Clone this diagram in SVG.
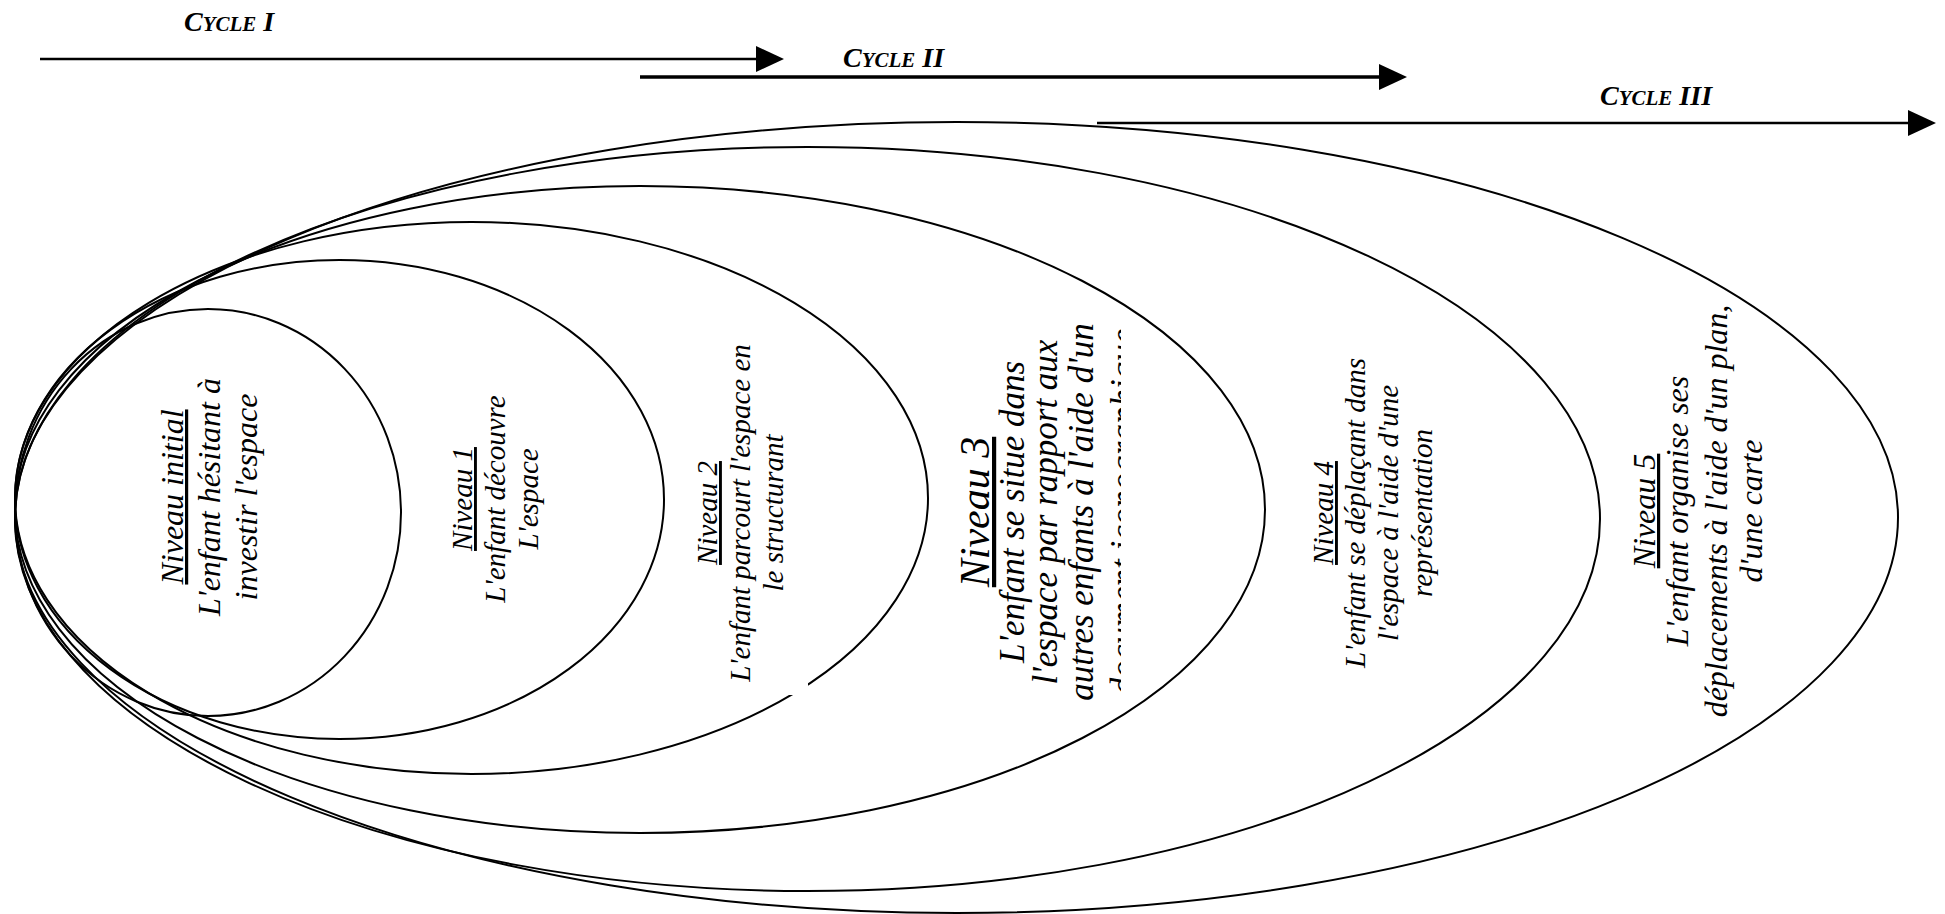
<svg xmlns="http://www.w3.org/2000/svg" width="1945" height="914" viewBox="0 0 1945 914">
<style>
.bg{fill:#ffffff}
.ring{fill:none;stroke:#000;stroke-width:2}
.arrow{stroke:#000;fill:none}
.cyc{font-family:"Liberation Serif","Times New Roman",serif;font-style:italic;font-weight:bold;font-size:28px;fill:#000}
.sc{font-size:21px}
.lbl{font-family:"Liberation Serif","Times New Roman",serif;font-style:italic;fill:#000;text-anchor:middle}
.u{text-decoration:underline}
</style>
<defs>
<marker id="ah" markerUnits="userSpaceOnUse" markerWidth="28" markerHeight="26" viewBox="0 0 28 26" refX="18" refY="13" orient="auto">
<path d="M0,0 L28,13 L0,26 Z" fill="#000"/>
</marker>
<clipPath id="clip3"><rect x="940" y="280" width="181" height="460"/></clipPath>
</defs>
<rect class="bg" x="0" y="0" width="1945" height="914"/>

<g id="connectors">
<line class="arrow" x1="40" y1="59" x2="774" y2="59" stroke-width="2.5" marker-end="url(#ah)"/>
<line class="arrow" x1="640" y1="77" x2="1397" y2="77" stroke-width="3.5" marker-end="url(#ah)"/>
<line class="arrow" x1="1097" y1="123" x2="1926" y2="123" stroke-width="2.5" marker-end="url(#ah)"/>
</g>

<g id="cycle-labels">
<text class="cyc" x="184" y="31">C<tspan class="sc">YCLE</tspan> I</text>
<text class="cyc" x="843" y="67">C<tspan class="sc">YCLE</tspan> II</text>
<text class="cyc" x="1600" y="105">C<tspan class="sc">YCLE</tspan> III</text>
</g>

<g id="niveau5">
<ellipse class="ring" cx="956.5" cy="517.5" rx="941.5" ry="395.5"/>
</g>
<g id="niveau4">
<ellipse class="ring" cx="807.5" cy="519" rx="792.5" ry="372"/>
</g>
<g id="niveau3">
<ellipse class="ring" cx="640" cy="509.5" rx="625" ry="323.5"/>
</g>
<g id="niveau2">
<ellipse class="ring" cx="471.5" cy="498" rx="456.5" ry="276"/>
</g>
<g id="niveau1">
<ellipse class="ring" cx="339.5" cy="499.5" rx="324.5" ry="239.5"/>
</g>
<g id="niveau-initial">
<ellipse class="ring" cx="208" cy="512.5" rx="193" ry="203.5"/>
</g>

<g id="niveau-initial-text">
<text class="lbl" font-size="32" transform="translate(183,497) rotate(-90)"><tspan class="u" x="0" y="0">Niveau initial</tspan><tspan x="0" y="37">L'enfant hésitant à</tspan><tspan x="0" y="74">investir l'espace</tspan></text>
</g>
<g id="niveau1-text">
<text class="lbl" font-size="29" transform="translate(472,499) rotate(-90)"><tspan class="u" x="0" y="0">Niveau 1</tspan><tspan x="0" y="33">L'enfant découvre</tspan><tspan x="0" y="66">L'espace</tspan></text>
</g>
<g id="niveau2-text">
<rect class="bg" x="690" y="335" width="118" height="360"/>
<text class="lbl" font-size="29" transform="translate(717,513) rotate(-90)"><tspan class="u" x="0" y="0">Niveau 2</tspan><tspan x="0" y="33">L'enfant parcourt l'espace en</tspan><tspan x="0" y="66">le structurant</tspan></text>
</g>
<g id="niveau3-text" clip-path="url(#clip3)">
<text class="lbl" font-size="35" transform="translate(989,512) rotate(-90)"><tspan class="u" x="0" y="0" font-size="42">Niveau 3</tspan><tspan x="0" y="35">L'enfant se situe dans</tspan><tspan x="0" y="68">l'espace par rapport aux</tspan><tspan x="0" y="104">autres enfants à l'aide d'un</tspan><tspan x="0" y="146">document iconographique</tspan></text>
</g>
<g id="niveau4-text">
<text class="lbl" font-size="29" transform="translate(1333,513) rotate(-90)"><tspan class="u" x="0" y="0">Niveau 4</tspan><tspan x="0" y="32">L'enfant se déplaçant dans</tspan><tspan x="0" y="65">l'espace à l'aide d'une</tspan><tspan x="0" y="99">représentation</tspan></text>
</g>
<g id="niveau5-text">
<text class="lbl" font-size="32" transform="translate(1655,511) rotate(-90)"><tspan class="u" x="0" y="0">Niveau 5</tspan><tspan x="0" y="33">L'enfant organise ses</tspan><tspan x="0" y="72">déplacements à l'aide d'un plan,</tspan><tspan x="0" y="107">d'une carte</tspan></text>
</g>
</svg>
